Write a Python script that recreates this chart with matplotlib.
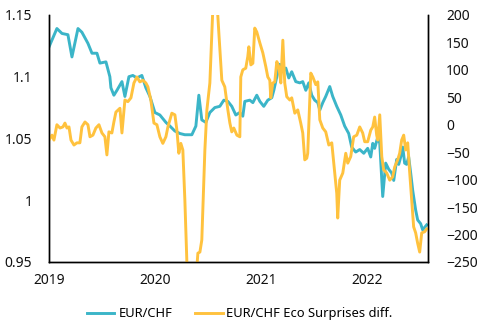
import numpy as np
import matplotlib
matplotlib.use("Agg")
import matplotlib.pyplot as plt
from matplotlib.ticker import FuncFormatter

plt.rcParams['font.family'] = ['Noto Sans', 'DejaVu Sans']

# EUR/CHF (left axis), dates as decimal years
chf_t = [2019.000, 2019.075, 2019.123, 2019.179, 2019.217, 2019.274, 2019.311, 2019.368,
         2019.406, 2019.453, 2019.481, 2019.538, 2019.575, 2019.585, 2019.613, 2019.642,
         2019.689, 2019.717, 2019.755, 2019.792, 2019.830, 2019.877, 2019.915, 2019.953,
         2020.000, 2020.047, 2020.104, 2020.142, 2020.189, 2020.236, 2020.283, 2020.349,
         2020.387, 2020.415, 2020.443, 2020.481, 2020.519, 2020.566, 2020.613, 2020.651,
         2020.689, 2020.726, 2020.764, 2020.802, 2020.830, 2020.849, 2020.896, 2020.925,
         2020.962, 2020.991, 2021.028, 2021.066, 2021.104, 2021.123, 2021.151, 2021.179,
         2021.208, 2021.236, 2021.264, 2021.292, 2021.330, 2021.368, 2021.396, 2021.425,
         2021.453, 2021.481, 2021.509, 2021.538, 2021.557, 2021.585, 2021.613, 2021.651,
         2021.679, 2021.717, 2021.755, 2021.792, 2021.830, 2021.858, 2021.896, 2021.934,
         2021.972, 2022.009, 2022.038, 2022.057, 2022.075, 2022.104, 2022.123, 2022.151,
         2022.179, 2022.208, 2022.236, 2022.255, 2022.283, 2022.302, 2022.321, 2022.340,
         2022.358, 2022.377, 2022.396, 2022.415, 2022.434, 2022.462, 2022.481, 2022.509,
         2022.528, 2022.547, 2022.566]
chf = [1.124, 1.139, 1.135, 1.134, 1.116, 1.139, 1.136, 1.127,
       1.119, 1.119, 1.111, 1.112, 1.100, 1.091, 1.085, 1.089,
       1.096, 1.084, 1.100, 1.101, 1.099, 1.101, 1.091, 1.084,
       1.071, 1.069, 1.063, 1.060, 1.056, 1.054, 1.053, 1.053,
       1.060, 1.085, 1.065, 1.063, 1.071, 1.075, 1.076, 1.081,
       1.080, 1.076, 1.069, 1.071, 1.068, 1.080, 1.081, 1.079,
       1.085, 1.080, 1.076, 1.081, 1.083, 1.089, 1.100, 1.110,
       1.104, 1.107, 1.099, 1.104, 1.096, 1.095, 1.096, 1.089,
       1.095, 1.085, 1.081, 1.079, 1.073, 1.079, 1.084, 1.092,
       1.084, 1.076, 1.069, 1.060, 1.054, 1.043, 1.039, 1.041,
       1.038, 1.042, 1.035, 1.046, 1.042, 1.051, 1.046, 1.003,
       1.030, 1.025, 1.022, 1.016, 1.033, 1.029, 1.035, 1.043,
       1.030, 1.029, 1.035, 1.022, 1.008, 0.992, 0.984, 0.981,
       0.976, 0.978, 0.980]

# EUR/CHF Eco Surprises diff. (right axis)
eco_t = [2019.000, 2019.028, 2019.047, 2019.075, 2019.104, 2019.132, 2019.151, 2019.170,
         2019.189, 2019.208, 2019.236, 2019.264, 2019.292, 2019.311, 2019.340, 2019.368,
         2019.387, 2019.415, 2019.443, 2019.472, 2019.500, 2019.528, 2019.547, 2019.566,
         2019.594, 2019.613, 2019.632, 2019.670, 2019.689, 2019.717, 2019.745, 2019.774,
         2019.802, 2019.830, 2019.858, 2019.887, 2019.915, 2019.934, 2019.962, 2019.991,
         2020.019, 2020.047, 2020.075, 2020.104, 2020.123, 2020.160, 2020.189, 2020.208,
         2020.226, 2020.245, 2020.264, 2020.283, 2020.302, 2020.330, 2020.368, 2020.396,
         2020.406, 2020.425, 2020.443, 2020.472, 2020.491, 2020.519, 2020.538, 2020.557,
         2020.575, 2020.604, 2020.632, 2020.660, 2020.689, 2020.708, 2020.726, 2020.745,
         2020.774, 2020.802, 2020.811, 2020.830, 2020.858, 2020.877, 2020.887, 2020.906,
         2020.925, 2020.943, 2020.962, 2020.991, 2021.019, 2021.047, 2021.066, 2021.085,
         2021.094, 2021.113, 2021.132, 2021.151, 2021.170, 2021.189, 2021.208, 2021.226,
         2021.245, 2021.274, 2021.292, 2021.321, 2021.349, 2021.377, 2021.396, 2021.415,
         2021.434, 2021.443, 2021.472, 2021.491, 2021.519, 2021.538, 2021.557, 2021.585,
         2021.613, 2021.642, 2021.670, 2021.698, 2021.717, 2021.726, 2021.745, 2021.774,
         2021.802, 2021.821, 2021.849, 2021.877, 2021.906, 2021.934, 2021.962, 2021.981,
         2022.009, 2022.038, 2022.057, 2022.075, 2022.094, 2022.104, 2022.123, 2022.142,
         2022.160, 2022.189, 2022.217, 2022.245, 2022.264, 2022.292, 2022.311, 2022.330,
         2022.349, 2022.368, 2022.387, 2022.406, 2022.425, 2022.443, 2022.462, 2022.481,
         2022.500, 2022.519, 2022.547, 2022.566]
eco = [-28, -19, -28, 0, -6, -4, 3, -6,
       -4, -28, -37, -33, -33, -4, 5, 0,
       -22, -19, -6, 0, -15, -22, -55, -13,
       -15, 5, 23, 30, -15, 45, 42, 49,
       76, 87, 78, 81, 76, 69, 45, 3,
       0, -22, -34, -22, -4, 21, 18, -10,
       -52, -34, -46, -137, -250, -300, -300, -260,
       -234, -232, -210, -46, 27, 76, 167, 260,
       260, 167, 81, 69, 27, 3, -13, -6,
       -19, -22, 87, 100, 103, 124, 142, 109,
       112, 176, 169, 149, 131, 106, 87, 81,
       49, 76, 78, 115, 106, 76, 154, 76,
       51, 45, 49, 21, 27, 3, -15, -64,
       -61, -52, 94, 87, 73, 78, 9, -6,
       -13, -37, -33, -88, -125, -170, -101, -88,
       -52, -70, -58, -22, -19, -4, -15, -31,
       -31, -10, -4, 14, -19, -28, 18, -58,
       -82, -88, -101, -95, -77, -64, -52, -28,
       -19, -46, -33, -88, -137, -186, -197, -216,
       -232, -197, -195, -190]

teal = '#3bb5c8'
gold = '#ffc23e'

fig = plt.figure(figsize=(4.8, 3.32), dpi=100)
ax = fig.add_axes([0.102, 0.211, 0.79, 0.744])
ax2 = ax.twinx()

l1, = ax.plot(chf_t, chf, color=teal, lw=2.1, label='EUR/CHF')
l2, = ax2.plot(eco_t, eco, color=gold, lw=2.1, label='EUR/CHF Eco Surprises diff.')

ax.set_xlim(2019, 2022.58)
ax.set_ylim(0.95, 1.15)
ax2.set_ylim(-250, 200)

ax.set_xticks([2019, 2020, 2021, 2022])
ax.set_yticks([0.95, 1.0, 1.05, 1.1, 1.15])
ax2.set_yticks(np.arange(-250, 201, 50))
ax.yaxis.set_major_formatter(FuncFormatter(lambda v, p: '%g' % round(v, 2)))
ax.xaxis.set_major_formatter(FuncFormatter(lambda v, p: '%d' % v))

for a in (ax, ax2):
    a.spines['top'].set_visible(False)
    for s in ('left', 'right', 'bottom'):
        a.spines[s].set_color('black')
        a.spines[s].set_linewidth(1.0)
    a.tick_params(length=0, labelsize=10, colors='#111111')
ax.tick_params(axis='y', pad=12)
ax.tick_params(axis='x', pad=8)
ax2.tick_params(axis='y', pad=13)

fig.legend(handles=[l1, l2], loc='lower center', bbox_to_anchor=(0.5, 0.0),
           ncol=2, frameon=False, fontsize=9.3, handlelength=2.1,
           handletextpad=0.3, columnspacing=1.8)

fig.savefig('out.png', dpi=100)
